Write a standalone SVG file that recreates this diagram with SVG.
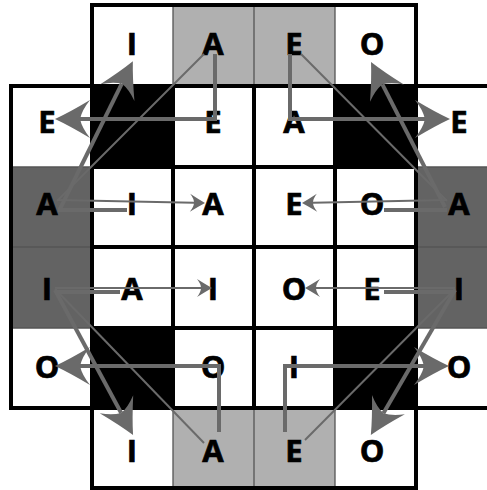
<svg xmlns="http://www.w3.org/2000/svg" width="487" height="490" viewBox="0 0 487 490">
<style>
.lt{fill:#b0b0b0}
.dk{fill:#636363}
.bk{fill:#000}
.thin{stroke:#555;stroke-width:1.3;fill:none}
.grid{stroke:#000;stroke-width:4;fill:none}
.t{font-family:"Open Sans","Liberation Sans",sans-serif;font-weight:700;font-size:31px;text-anchor:middle;fill:#000;stroke:#000;stroke-width:0.7}
.c1{stroke:#6a6a6a;stroke-width:4;fill:none}
.c2{stroke:#6a6a6a;stroke-width:2;fill:none}
.big{marker-end:url(#mb)}
.sm{marker-end:url(#ms)}
</style>
<defs>
<marker id="mb" markerUnits="userSpaceOnUse" orient="auto" refX="0" refY="0" markerWidth="10" markerHeight="10" overflow="visible">
<path d="M25,0 Q10,-7 -10,-19 Q-2,-9 0,0 Q-2,9 -10,19 Q10,7 25,0 Z" fill="#6a6a6a"/>
</marker>
<marker id="ms" markerUnits="userSpaceOnUse" orient="auto" refX="0" refY="0" markerWidth="10" markerHeight="10" overflow="visible">
<path d="M11,0 Q4,-4 -4,-9 Q0,-4 0,0 Q0,4 -4,9 Q4,4 11,0 Z" fill="#6a6a6a"/>
</marker>
</defs>
<rect x="0" y="0" width="487" height="490" fill="#fff"/>
<g id="cells">
<rect class="lt" x="173" y="5" width="162" height="81"/>
<rect class="lt" x="173" y="408" width="162" height="80"/>
<rect class="dk" x="11" y="167" width="81" height="161"/>
<rect class="dk" x="416" y="167" width="75" height="161"/>
<rect class="bk" x="92" y="86" width="81" height="81"/>
<rect class="bk" x="335" y="86" width="81" height="81"/>
<rect class="bk" x="92" y="328" width="81" height="80"/>
<rect class="bk" x="335" y="328" width="81" height="80"/>
</g>
<g id="borders">
<path class="thin" d="M173,5V86M254,5V86M335,5V86M173,408V488M254,408V488M335,408V488M11,167H92M11,247H92M11,328H92M416,167H490M416,247H490M416,328H490"/>
<rect class="grid" x="92" y="5" width="324" height="81"/>
<rect class="grid" x="92" y="408" width="324" height="80"/>
<rect class="grid" x="11" y="86" width="81" height="322"/>
<path class="grid" d="M416,86H491M416,408H491M173,86V408M254,86V408M335,86V408M416,86V408M92,167H416M92,247H416M92,328H416"/>
</g>
<g id="n-top">
<text class="t" x="132" y="55">I</text>
<text class="t" x="213" y="55">A</text>
<text class="t" x="294" y="55">E</text>
<text class="t" x="372" y="55">O</text>
</g>
<g id="n-left">
<text class="t" x="47" y="133">E</text>
<text class="t" x="47" y="215">A</text>
<text class="t" x="47" y="300">I</text>
<text class="t" x="47" y="378">O</text>
</g>
<g id="n-right">
<text class="t" x="459" y="133">E</text>
<text class="t" x="459" y="215">A</text>
<text class="t" x="459" y="300">I</text>
<text class="t" x="459" y="378">O</text>
</g>
<g id="n-center">
<text class="t" x="213" y="133">E</text>
<text class="t" x="294" y="133">A</text>
<text class="t" x="132" y="215">I</text>
<text class="t" x="213" y="215">A</text>
<text class="t" x="294" y="215">E</text>
<text class="t" x="372" y="215">O</text>
<text class="t" x="132" y="300">A</text>
<text class="t" x="213" y="300">I</text>
<text class="t" x="294" y="300">O</text>
<text class="t" x="372" y="300">E</text>
<text class="t" x="213" y="378">O</text>
<text class="t" x="294" y="378">I</text>
</g>
<g id="n-bottom">
<text class="t" x="132" y="462">I</text>
<text class="t" x="213" y="462">A</text>
<text class="t" x="294" y="462">E</text>
<text class="t" x="372" y="462">O</text>
</g>
<g id="connectors">
<path class="c2" d="M204,54L57,201"/>
<path class="c1 big" d="M60,209L121.8,83.6"/>
<path class="c1 big" d="M215,54V119H80"/>
<path class="c2 sm" d="M57,200L194,202.8"/>
<path class="c1" d="M58,210H127"/>
<path class="c2" d="M301,54L447,201"/>
<path class="c1 big" d="M445,207L382.4,84.3"/>
<path class="c1 big" d="M290,54V119H425"/>
<path class="c2 sm" d="M447,200L313,202.8"/>
<path class="c1" d="M447,210H384"/>
<path class="c2 sm" d="M55,288H201"/>
<path class="c1" d="M56,292H120"/>
<path class="c1 big" d="M219,432V366H80"/>
<path class="c1 big" d="M55,290L121.2,413"/>
<path class="c2" d="M55,289L204,443"/>
<path class="c2 sm" d="M455,288H316"/>
<path class="c1" d="M455,292H384"/>
<path class="c1 big" d="M285,432V366H424"/>
<path class="c1 big" d="M455,290L383.4,413.3"/>
<path class="c2" d="M455,289L305,440"/>
</g>
</svg>
